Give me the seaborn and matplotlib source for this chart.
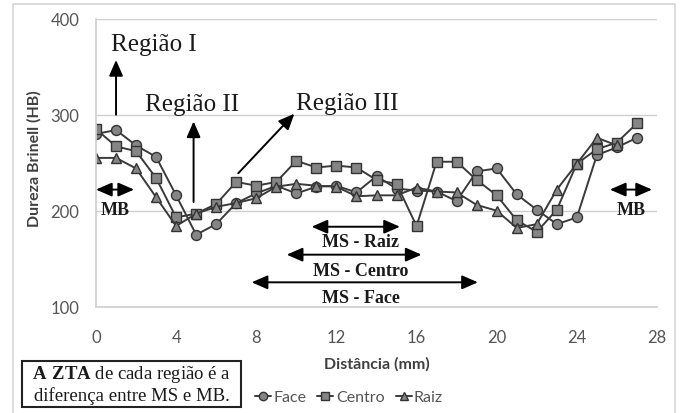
import matplotlib
matplotlib.use("Agg")
import matplotlib.pyplot as plt
import matplotlib.patches as mpatches
from matplotlib.lines import Line2D
import numpy as np
import pandas as pd
import seaborn as sns

# Hardness profile across the weld (Brinell), three measurement lines
distancia = list(range(28))
face = [280, 284, 268, 256, 216, 175, 186, 208, 218, 226, 218, 225, 226, 219,
        236, 223, 221, 220, 210, 241, 244, 217, 201, 186, 193, 258, 266, 276]
centro = [285, 267, 262, 234, 193, 197, 207, 230, 226, 230, 252, 245, 247, 245,
          232, 228, 184, 251, 251, 232, 216, 190, 178, 201, 249, 264, 271, 291]
raiz = [255, 255, 244, 214, 184, 197, 204, 208, 213, 225, 228, 226, 225, 215,
        216, 216, 224, 220, 219, 206, 200, 182, 186, 222, 249, 276, 268]

series_names = ["Face", "Centro", "Raiz"]
series_values = [face, centro, raiz]
series_markers = ["o", "s", "^"]

y_ticks = [100, 200, 300, 400]
x_ticks = [0, 4, 8, 12, 16, 20, 24, 28]

frames = []
for name, vals in zip(series_names, series_values):
    frames.append(pd.DataFrame({"Distância (mm)": distancia[:len(vals)],
                                "Dureza Brinell (HB)": vals,
                                "Linha": name}))
df = pd.concat(frames, ignore_index=True)

sns.set_theme(style="white")
plt.rcParams["font.family"] = ["Lato", "DejaVu Sans"]
plt.rcParams["mathtext.fontset"] = "custom"
plt.rcParams["mathtext.rm"] = "Liberation Serif"
plt.rcParams["mathtext.bf"] = "Liberation Serif:bold"

W, H = 683, 414
fig = plt.figure(figsize=(W / 100, H / 100), dpi=100)
fig.patch.set_facecolor("white")
ax = fig.add_axes([96 / W, 1 - 307.7 / H, (657 - 96) / W, (307.7 - 19.7) / H])

line_col = "#3a3a3a"
face_col = "#858585"
for name, mk in zip(series_names, series_markers):
    sns.lineplot(data=df[df["Linha"] == name], x="Distância (mm)",
                 y="Dureza Brinell (HB)", ax=ax, color=line_col, lw=1.4,
                 marker=mk, markersize=7.2 if mk != "^" else 7.6,
                 markerfacecolor=face_col, markeredgecolor="#333333",
                 markeredgewidth=1.0, legend=False)

ax.set_xlim(0, 28)
ax.set_ylim(100, 400)
ax.set_xticks(x_ticks)
ax.set_yticks(y_ticks)
ax.grid(axis="y", color="#cfcfcf", lw=1.0)
ax.grid(axis="x", visible=False)
for s in ["top", "right"]:
    ax.spines[s].set_visible(False)
ax.spines["left"].set_color("#cfcfcf")
ax.spines["bottom"].set_color("#cfcfcf")
ax.tick_params(axis="both", length=0, labelsize=12, labelcolor="#555555")
ax.tick_params(axis="y", pad=12)
ax.tick_params(axis="x", pad=16)

ax.set_xlabel("Distância (mm)", fontsize=11.5, fontweight="bold", color="#404040")
ax.set_ylabel("Dureza Brinell (HB)", fontsize=11.5, fontweight="bold", color="#404040")
ax.xaxis.label.set_va("center")
ax.xaxis.set_label_coords(0.5, -(364 - 307.7) / 288)
ax.yaxis.label.set_va("center")
ax.yaxis.set_label_coords((34 - 96) / 561, (307.7 - 158.5) / 288)

serif = ["Liberation Serif", "DejaVu Serif"]
single = dict(arrowstyle="-|>,head_length=0.8,head_width=0.35", color="black", lw=1.4,
              shrinkA=0, shrinkB=0)
double = dict(arrowstyle="<|-|>,head_length=0.8,head_width=0.35", color="black", lw=1.4,
              shrinkA=0, shrinkB=0)

# Region labels with arrows
ax.text(0.75, 373.5, "Região I", family=serif, fontsize=18, color="#1a1a1a",
        ha="left", va="center")
ax.annotate("", xy=(1.0, 357), xytext=(1.0, 300), arrowprops=single)
ax.text(2.45, 311, "Região II", family=serif, fontsize=18, color="#1a1a1a",
        ha="left", va="center")
ax.annotate("", xy=(4.87, 293), xytext=(4.87, 209), arrowprops=single)
ax.text(10.0, 312, "Região III", family=serif, fontsize=18, color="#1a1a1a",
        ha="left", va="center")
ax.annotate("", xy=(9.9, 301), xytext=(7.1, 239), arrowprops=single)

# Base metal (MB) spans at both ends
ax.annotate("", xy=(0.0, 222), xytext=(1.9, 222), arrowprops=double)
ax.text(0.95, 201.5, "MB", family=serif, fontsize=13, fontweight="bold",
        color="#1a1a1a", ha="center", va="center")
ax.annotate("", xy=(25.65, 222), xytext=(27.75, 222), arrowprops=double)
ax.text(26.7, 201.5, "MB", family=serif, fontsize=13, fontweight="bold",
        color="#1a1a1a", ha="center", va="center")

# Weld metal (MS) spans for each measurement line
ms_spans = [("MS - Raiz", 10.76, 15.17, 183.3, 167.4),
            ("MS - Centro", 9.52, 16.25, 154.2, 137.5),
            ("MS - Face", 7.77, 19.06, 125.4, 110.0)]
for label, x0, x1, ya, yt in ms_spans:
    ax.annotate("", xy=(x0, ya), xytext=(x1, ya), arrowprops=double)
    ax.text(13.2, yt, label, family=serif, fontsize=13, fontweight="bold",
            color="#1a1a1a", ha="center", va="center")

# Legend below the axis title
handles = [Line2D([0], [0], color=line_col, lw=1.4, marker=mk, markersize=6,
                  markerfacecolor=face_col, markeredgecolor="#333333")
           for mk in series_markers]
fig.legend(handles, series_names, loc="center", bbox_to_anchor=(349 / W, 1 - 398 / H),
           ncol=3, frameon=False, fontsize=11.5, handlelength=1.0, handletextpad=0.15,
           columnspacing=0.7, labelcolor="#555555")

# Note box
fig.patches.append(mpatches.Rectangle((21.7 / W, 1 - 408.3 / H), (240.7 - 21.7) / W,
                                      (408.3 - 361.7) / H, transform=fig.transFigure,
                                      facecolor="white", edgecolor="#222222", lw=1.5))
fig.text(131.5 / W, 1 - 375 / H, "$\\mathbf{A\\ ZTA}$ de cada região é a",
         family=serif, fontsize=13.5, color="#1a1a1a", ha="center", va="center")
fig.text(131.5 / W, 1 - 396 / H, "diferença entre MS e MB.",
         family=serif, fontsize=13.5, color="#1a1a1a", ha="center", va="center")

# Light chart-area frame
fig.patches.append(mpatches.Rectangle((13 / W, -0.02), (675 - 13) / W, 1 - 5 / H + 0.02,
                                      transform=fig.transFigure, fill=False,
                                      edgecolor="#d5d5d5", lw=1.2))

fig.savefig("out.png", dpi=100, facecolor="white")
